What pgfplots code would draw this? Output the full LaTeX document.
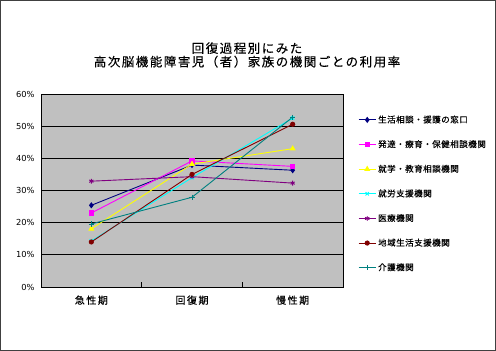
\documentclass[border=0pt]{standalone}
\usepackage{fontspec}
\setmainfont{DejaVu Sans}
\newfontfamily\jptitle[LetterSpace=12, FakeBold=0.4]{Noto Sans CJK JP}
\newfontfamily\jpx[LetterSpace=15, FakeBold=0.6]{Noto Sans CJK JP}
\newfontfamily\jpleg[LetterSpace=6, FakeBold=0.4]{Noto Sans CJK JP}
\usepackage{pgfplots}
\pgfplotsset{compat=1.18}
\definecolor{cnavy}{RGB}{0,0,128}
\definecolor{cmag}{RGB}{255,0,255}
\definecolor{cyel}{RGB}{255,255,0}
\definecolor{ccyan}{RGB}{0,255,255}
\definecolor{cpur}{RGB}{128,0,128}
\definecolor{cmar}{RGB}{128,0,0}
\definecolor{cteal}{RGB}{0,128,128}
\definecolor{plotbg}{RGB}{192,192,192}
\begin{document}
\begin{tikzpicture}
\path[use as bounding box] (0,0) rectangle (496bp,351bp);
\draw[line width=0.8bp, black!75] (0.6bp,0.6bp) rectangle (495.4bp,350.4bp);
\node[align=center, font=\jptitle\fontsize{12.5bp}{13.5bp}\selectfont] at (247bp,296bp) {回復過程別にみた\\高次脳機能障害児（者）家族の機関ごとの利用率};
\begin{axis}[
  at={(41bp,64bp)}, anchor=south west,
  width=302bp, height=193bp, scale only axis,
  axis background/.style={fill=plotbg},
  axis line style={black, line width=0.8bp},
  xmin=-0.5, xmax=2.5, ymin=0, ymax=60,
  xtick={0,1,2},
  xticklabels={急性期,回復期,慢性期},
  xticklabel style={font=\jpx\fontsize{10bp}{12bp}\selectfont, yshift=-5bp},
  major x tick style={draw=none},
  minor xtick={0.5,1.5},
  minor tick length=5bp,
  minor x tick style={black, line width=0.8bp},
  tick pos=left,
  ytick={0,10,20,30,40,50,60},
  ytick style={draw=none},
  ymajorgrids,
  major grid style={black, line width=0.8bp},
  yticklabel={\pgfmathprintnumber{\tick}\%},
  yticklabel style={font=\fontsize{8.3bp}{10bp}\selectfont, xshift=-3bp},
  /pgf/number format/assume math mode=true,
  every axis plot/.append style={line width=0.9bp},
  legend style={at={(1.04,0.483)}, anchor=west, draw=none, fill=none,
    font=\jpleg\fontsize{8.5bp}{10bp}\selectfont, row sep=12bp},
  legend cell align=left,
]
\addplot[cnavy, mark=diamond*, mark size=2.4bp] coordinates {(0,25.4) (1,37.9) (2,36.3)};
\addlegendentry{生活相談・援護の窓口}
\addplot[cmag, mark=square*, mark size=2.2bp] coordinates {(0,23.0) (1,39.2) (2,37.5)};
\addlegendentry{発達・療育・保健相談機関}
\addplot[cyel, mark=triangle*, mark size=2.6bp] coordinates {(0,18.1) (1,38.2) (2,43.0)};
\addlegendentry{就学・教育相談機関}
\addplot[ccyan, mark=x, mark size=2.4bp] coordinates {(0,14.3) (1,34.0) (2,52.5)};
\addlegendentry{就労支援機関}
\addplot[cpur, mark=asterisk, mark size=2.4bp] coordinates {(0,32.9) (1,34.3) (2,32.3)};
\addlegendentry{医療機関}
\addplot[cmar, mark=*, mark size=2.1bp] coordinates {(0,14.0) (1,35.0) (2,50.6)};
\addlegendentry{地域生活支援機関}
\addplot[cteal, mark=+, mark size=2.6bp] coordinates {(0,19.6) (1,27.9) (2,52.8)};
\addlegendentry{介護機関}
\end{axis}
\end{tikzpicture}
\end{document}
